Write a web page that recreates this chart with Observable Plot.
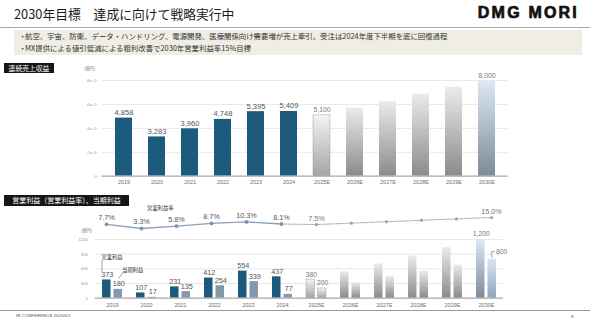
<!DOCTYPE html>
<html><head><meta charset="utf-8">
<script src="https://cdn.jsdelivr.net/npm/d3@7"></script>
<script src="https://cdn.jsdelivr.net/npm/@observablehq/plot@0.6"></script>
<style>
body{margin:0;background:#fff}
#slide{position:relative;width:590px;height:323px;overflow:hidden;font-family:"Noto Sans CJK JP",sans-serif;color:#222;background:#fff}
.abs{position:absolute;white-space:nowrap}
.tag{position:absolute;background:#161616;color:#fff;white-space:nowrap}
.chart{position:absolute;left:0;width:590px}
</style></head><body>
<svg width="0" height="0" style="position:absolute">
<defs>
<linearGradient id="gGrey" x1="0" y1="0" x2="0" y2="1"><stop offset="0" stop-color="#ebebeb"/><stop offset="1" stop-color="#8b8b8b"/></linearGradient>
<linearGradient id="g25" x1="0" y1="0" x2="0" y2="1"><stop offset="0" stop-color="#f4f4f4"/><stop offset="1" stop-color="#a4a4a4"/></linearGradient>
<linearGradient id="gBlue" x1="0" y1="0" x2="0" y2="1"><stop offset="0" stop-color="#dde9f5"/><stop offset="1" stop-color="#7c8a99"/></linearGradient>
<linearGradient id="gBlue2" x1="0" y1="0" x2="0" y2="1"><stop offset="0" stop-color="#d7e6f4"/><stop offset="1" stop-color="#8fa6be"/></linearGradient>
</defs></svg>
<div id="slide">
  <div class="abs" style="left:14px;top:3.5px;font-size:12.8px;line-height:19px;color:#1a1a1a">2030年目標　達成に向けて戦略実行中</div>
  <div class="abs" style="right:11px;top:3px;font-family:'Liberation Sans',Arial,sans-serif;font-weight:900;font-size:16px;line-height:20px;letter-spacing:2.2px;color:#111;-webkit-text-stroke:0.7px #111">DMG MORI</div>
  <div class="abs" style="left:0;top:26.5px;width:590px;height:1px;background:#a8a8a8"></div>
  <div class="abs" style="left:14px;top:30px;width:568px;height:25px;background:#efede4"></div>
  <div class="abs" style="left:19px;top:30px;font-size:7.4px;line-height:12px;color:#333">・</div>
  <div class="abs" style="left:25px;top:30px;font-size:7.4px;line-height:12px;color:#333">航空、宇宙、防衛、データ・ハンドリング、電源開発、医療関係向け需要増が売上牽引。受注は2024年度下半期を底に回復過程</div>
  <div class="abs" style="left:19px;top:42px;font-size:7.4px;line-height:12px;color:#333">・</div>
  <div class="abs" style="left:25px;top:42px;font-size:7.4px;line-height:12px;color:#333">MX提供による値引低減による粗利改善で2030年営業利益率15%目標</div>
  <div class="tag" style="left:4px;top:63px;width:50px;height:10px;font-size:6.8px;line-height:10px;text-align:center">連続売上収益</div>
  <div class="abs" style="left:84px;top:66px;font-size:4.2px;line-height:5px;color:#777">(億円)</div>
  <div id="topChart" class="chart" style="top:60px"></div>
  <div class="tag" style="left:4px;top:195px;width:125px;height:11px;font-size:7px;line-height:11px;text-align:center">営業利益（営業利益率）、当期利益</div>
  <div class="abs" style="left:147px;top:205px;font-size:5.3px;line-height:6px;color:#333">営業利益率</div>
  <div class="abs" style="left:81px;top:228px;font-size:4.2px;line-height:5px;color:#777">(億円)</div>
  <div id="bottomChart" class="chart" style="top:225px"></div>
  <div id="lineChart" class="chart" style="top:200px"></div>
  <div class="abs" style="left:0;top:309.5px;width:590px;height:1.3px;background:#9a9a9a"></div>
  <div class="abs" style="left:16px;top:313px;font-family:'Liberation Sans',Arial,sans-serif;font-size:4.4px;line-height:6px;color:#555">IR CONFERENCE 2025/6/1</div>
  <div class="abs" style="left:571px;top:314px;font-family:'Liberation Sans',Arial,sans-serif;font-size:4.4px;line-height:6px;color:#555">8</div>
</div>
<script>
const years = ["2019","2020","2021","2022","2023","2024","2025E","2026E","2027E","2028E","2029E","2030E"];
const revenue = [4858,3283,3960,4748,5395,5409,5100,5690,6240,6850,7440,8000];
const opProfit = [373,107,231,412,554,437,380,540,700,860,1035,1200];
const netProfit = [180,17,135,254,339,77,200,315,440,550,675,800];
const opMargin = [7.7,3.3,5.8,8.7,10.3,8.1,7.5,9.0,10.5,12.0,13.5,15.0];
const actualCount = 6;
const labeledYears = ["2019","2020","2021","2022","2023","2024","2025E","2030E"];
const revTicks = [0,2000,4000,6000,8000];
const profitTicks = [0,300,600,900,1200];

const rows = years.map((year,i)=>({
  year, revenue: revenue[i], op: opProfit[i], net: netProfit[i], margin: opMargin[i],
  actual: i < actualCount,
  kind: i < actualCount ? "actual" : year === "2025E" ? "e25" : year === "2030E" ? "e30" : "est",
  labeled: labeledYears.includes(year)
}));
const fmt = d3.format(",");
const numFont = "'Liberation Sans', Arial, sans-serif";
const actual = rows.filter(d=>d.kind==="actual");
const e25 = rows.filter(d=>d.kind==="e25");
const est = rows.filter(d=>d.kind==="est");
const e30 = rows.filter(d=>d.kind==="e30");

// Top: revenue
const topPlot = Plot.plot({
  width:590, height:130, marginLeft:101.4, marginRight:82.6, marginTop:20, marginBottom:14.3,
  style:{fontFamily:numFont, background:"transparent", overflow:"visible"},
  x:{domain:years, paddingInner:0.5, paddingOuter:0.25},
  y:{domain:[0,8000]},
  marks:[
    Plot.ruleY(revTicks.slice(1), {stroke:"#e8e8e8", strokeWidth:1}),
    Plot.barY(actual, {x:"year", y:"revenue", fill:"#1d5b7e"}),
    Plot.barY(e25, {x:"year", y:"revenue", fill:"url(#g25)", stroke:"#8a8a8a", strokeWidth:0.7, strokeDasharray:"1.2,1"}),
    Plot.barY(est, {x:"year", y:"revenue", fill:"url(#gGrey)"}),
    Plot.barY(e30, {x:"year", y:"revenue", fill:"url(#gBlue)"}),
    Plot.ruleY([0], {stroke:"#a8a8a8", strokeWidth:1.3}),
    Plot.text(actual, {x:"year", y:"revenue", text:d=>fmt(d.revenue), dy:-3, lineAnchor:"bottom", fontSize:7.5, fill:"#555"}),
    Plot.text(rows.filter(d=>!d.actual && d.labeled), {x:"year", y:"revenue", text:d=>fmt(d.revenue), dy:-3, lineAnchor:"bottom", fontSize:6.8, fill:"#777"}),
    Plot.axisX({tickSize:0, tickPadding:4, fontSize:5.5, color:"#707070", label:null}),
    Plot.axisY({ticks:revTicks, tickSize:0, tickPadding:5.4, fontSize:4.2, color:"#9a9a9a", tickFormat:",", label:null})
  ]
});
document.getElementById("topChart").appendChild(topPlot);

// Bottom: operating profit & net profit
const inset = 11.5;
const annot = (index, scales) => {
  try {
    const sx = scales.x, sy = scales.y;
    const bw = typeof sx.bandwidth === "function" ? sx.bandwidth() : 20;
    const g = d3.create("svg:g").attr("fill","none").attr("stroke","#666").attr("stroke-width",0.6);
    const i0 = 0;
    const x0 = sx(years[i0]);
    const yOp = sy(opProfit[i0]), yNet = sy(netProfit[i0]);
    g.append("path").attr("d", `M${x0},${yOp-7.5}V${yOp-19.5}`);
    g.append("path").attr("d", `M${x0+21},${yNet-16.5}L${x0+16.8},${yNet-10.8}`);
    const iL = years.length - 1;
    const xL = sx(years[iL]);
    const yL = sy(netProfit[iL]);
    const cx = xL + bw - (bw - inset)/2;
    g.append("path").attr("d", `M${cx},${yL-1}V${yL-7}H${cx+3}`);
    return g.node();
  } catch(e) { return null; }
};
const bottomPlot = Plot.plot({
  width:590, height:84.7, marginLeft:94.7, marginRight:87, marginTop:14, marginBottom:12,
  style:{fontFamily:numFont, background:"transparent", overflow:"visible"},
  x:{domain:years, paddingInner:0.41, paddingOuter:0.205},
  y:{domain:[0,1200]},
  marks:[
    Plot.ruleY(profitTicks.slice(1), {stroke:"#e8e8e8", strokeWidth:1}),
    Plot.barY(actual, {x:"year", y:"op", fill:"#1d5b7e", insetRight:inset}),
    Plot.barY(actual, {x:"year", y:"net", fill:"#8499ae", insetLeft:inset}),
    Plot.barY(e25, {x:"year", y:"op", fill:"url(#g25)", stroke:"#8a8a8a", strokeWidth:0.7, strokeDasharray:"1.2,1", insetRight:inset}),
    Plot.barY(e25, {x:"year", y:"net", fill:"url(#g25)", stroke:"#8a8a8a", strokeWidth:0.7, strokeDasharray:"1.2,1", insetLeft:inset}),
    Plot.barY(est, {x:"year", y:"op", fill:"url(#gGrey)", insetRight:inset}),
    Plot.barY(est, {x:"year", y:"net", fill:"url(#gGrey)", insetLeft:inset}),
    Plot.barY(e30, {x:"year", y:"op", fill:"url(#gBlue)", insetRight:inset}),
    Plot.barY(e30, {x:"year", y:"net", fill:"url(#gBlue2)", insetLeft:inset}),
    Plot.ruleY([0], {stroke:"#a8a8a8", strokeWidth:1.3}),
    Plot.text(actual, {x:"year", y:"op", text:d=>fmt(d.op), dx:-5.2, dy:-3, lineAnchor:"bottom", fontSize:7.3, fill:"#555"}),
    Plot.text(actual, {x:"year", y:"net", text:d=>fmt(d.net), dx:6.2, dy:-3, lineAnchor:"bottom", fontSize:7.3, fill:"#555"}),
    Plot.text(rows.filter(d=>!d.actual && d.labeled), {x:"year", y:"op", text:d=>fmt(d.op), dx:-5.2, dy:-3, lineAnchor:"bottom", fontSize:6.8, fill:"#777"}),
    Plot.text(e25, {x:"year", y:"net", text:d=>fmt(d.net), dx:6.2, dy:-3, lineAnchor:"bottom", fontSize:6.8, fill:"#777"}),
    Plot.text(e30, {x:"year", y:"net", text:d=>fmt(d.net), dx:9.5, dy:-7, textAnchor:"start", lineAnchor:"middle", fontSize:6.8, fill:"#777"}),
    Plot.text(rows.slice(0,1), {x:"year", y:"op", text:()=>"営業利益", dx:-0.5, dy:-23, lineAnchor:"middle", fontSize:5.3, fill:"#333", fontFamily:"Noto Sans CJK JP"}),
    Plot.text(rows.slice(0,1), {x:"year", y:"net", text:()=>"当期利益", dx:20.3, dy:-19, lineAnchor:"middle", fontSize:5.3, fill:"#333", fontFamily:"Noto Sans CJK JP"}),
    annot,
    Plot.axisX({tickSize:0, tickPadding:5.3, fontSize:5.5, color:"#707070", label:null}),
    Plot.axisY({ticks:profitTicks, tickSize:0, tickPadding:7.4, fontSize:4.2, color:"#9a9a9a", tickFormat:d=>String(d), label:null})
  ]
});
document.getElementById("bottomChart").appendChild(bottomPlot);

// Line: operating margin
const lineColor = "#8aa0b6";
const linePlot = Plot.plot({
  width:590, height:32, marginLeft:106, marginRight:99, marginTop:17, marginBottom:0.9,
  style:{fontFamily:numFont, background:"transparent", overflow:"visible"},
  x:{type:"point", domain:years, padding:0, axis:null},
  y:{domain:[0,15], axis:null},
  marks:[
    Plot.line(rows.slice(0,actualCount), {x:"year", y:"margin", stroke:lineColor, strokeWidth:1.4}),
    Plot.line(rows.slice(actualCount-1), {x:"year", y:"margin", stroke:lineColor, strokeWidth:1, strokeDasharray:"0.8,1.4"}),
    Plot.dot(actual, {x:"year", y:"margin", r:1.9, fill:"#7d94ac"}),
    Plot.dot(rows.filter(d=>!d.actual), {x:"year", y:"margin", r:1.6, fill:"#8fa5bb"}),
    Plot.text(rows.filter(d=>d.labeled), {x:"year", y:"margin", text:d=>d.margin.toFixed(1)+"%", dy:-4, lineAnchor:"bottom", fontSize:7.3, fill:d=>d.actual?"#555":"#777"})
  ]
});
document.getElementById("lineChart").appendChild(linePlot);
</script>
</body></html>
